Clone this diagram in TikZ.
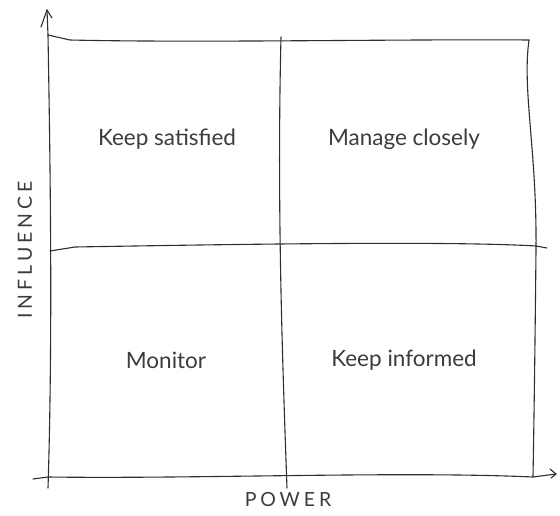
\documentclass[tikz,border=0pt]{standalone}
\usepackage{fontspec}
\setmainfont{Lato}
\usepackage{tikz}
\definecolor{ink}{HTML}{2E2E2E}
\definecolor{label}{HTML}{3C3C3C}

\begin{document}
\begin{tikzpicture}[x=1pt, y=-1pt,
  every node/.style={text=label, font=\fontsize{22.5}{26}\selectfont, inner sep=0pt},
  axislabel/.style={font=\fontsize{19.5}{23}\selectfont\addfontfeature{LetterSpace=20}},
  sketch/.style={draw=ink, line width=1.1pt, line cap=round, line join=round}]
\useasboundingbox (0,0) rectangle (560,516);

\coordinate (ytip) at (47,10);
\coordinate (tl) at (48,35);
\coordinate (tm) at (281,37);
\coordinate (tr) at (529,40);
\coordinate (ml) at (50,251);
\coordinate (mr) at (536,246);
\coordinate (bl) at (48,477);
\coordinate (bm) at (287,488);
\coordinate (br) at (533,477);
\coordinate (xtip) at (556,474);

% axes
\draw[sketch] (48,488) .. controls (53,330) and (50,150) .. (tl) -- (ytip);
\draw[sketch] (41,27) -- (ytip) -- (52,18);
\draw[sketch] (33,479) -- (48,477) .. controls (200,479) and (400,471) .. (br) -- (xtip);
\draw[sketch] (550,469) -- (xtip) -- (551,478);

% frame
\draw[sketch] (tl) -- (70,40) .. controls (200,43) and (400,39) .. (tr);
\draw[sketch] (tr) .. controls (522,90) and (537,150) .. (536,250) .. controls (535,350) and (534,420) .. (br);

% cross
\draw[sketch] (tm) .. controls (277,200) and (282,350) .. (bm);
\draw[sketch] (ml) -- (75,247) .. controls (250,244) and (450,241) .. (mr) -- (547,248);

% quadrants
\node (keepsat) at (167,139) {Keep satisfied};
\node (manage) at (404,139) {Manage closely};
\node (monitor) at (166,360) {Monitor};
\node (keepinf) at (404,360) {Keep informed};

\node[axislabel] (power) at (288,500) {POWER};
\node[axislabel, rotate=90] (influence) at (25,250) {INFLUENCE};
\end{tikzpicture}
\end{document}
